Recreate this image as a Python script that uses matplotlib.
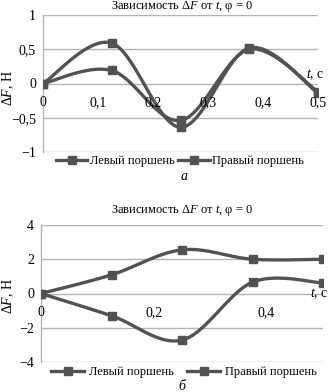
import numpy as np
import matplotlib
matplotlib.use("Agg")
import matplotlib.pyplot as plt
from matplotlib.lines import Line2D
import matplotlib.transforms as mtransforms

plt.rcParams['font.family'] = ['Liberation Serif', 'DejaVu Serif']
plt.rcParams['mathtext.fontset'] = 'custom'
plt.rcParams['mathtext.rm'] = 'Liberation Serif'
plt.rcParams['mathtext.it'] = 'Liberation Serif:italic'

# ---- data ----
t = [0, 0.125, 0.25, 0.375, 0.5]
a_left = [0, 0.59, -0.64, 0.52, -0.14]
a_right = [0, 0.19, -0.54, 0.50, -0.12]
b_left = [0, 1.09, 2.55, 2.0, 2.0]
b_right = [0, -1.3, -2.72, 0.66, 0.62]

a_xticks = [0, 0.1, 0.2, 0.3, 0.4, 0.5]
a_xlabels = ['0', '0,1', '0,2', '0,3', '0,4', '0,5']
a_yticks = [-1, -0.5, 0, 0.5, 1]
a_ylabels = ['\u22121', '\u22120,5', '0', '0,5', '1']
b_xticks = [0, 0.2, 0.4]
b_xlabels = ['0', '0,2', '0,4']
b_yticks = [-4, -2, 0, 2, 4]
b_ylabels = ['\u22124', '\u22122', '0', '2', '4']
series_names = ['Левый поршень', 'Правый поршень']
title = 'Зависимость Δ$\\mathit{F}$ от $\\mathit{t}$, φ = 0'

LINE = '#525252'
GRID = '#b4b4b4'
FS = 10
FS_T = 9
FS_L = 9


def smooth(x, y, n=30):
    x = np.asarray(x, float); y = np.asarray(y, float)
    P = np.column_stack([x, y])
    Pe = np.vstack([P[0], P, P[-1]])
    out = []
    for i in range(len(P) - 1):
        p0, p1, p2, p3 = Pe[i], Pe[i + 1], Pe[i + 2], Pe[i + 3]
        c1 = p1 + (p2 - p0) / 6.0
        c2 = p2 - (p3 - p1) / 6.0
        s = np.linspace(0, 1, n)[:, None]
        seg = (1 - s) ** 3 * p1 + 3 * (1 - s) ** 2 * s * c1 + 3 * (1 - s) * s ** 2 * c2 + s ** 3 * p2
        out.append(seg if i == 0 else seg[1:])
    seg = np.vstack(out)
    return seg[:, 0], seg[:, 1]


def panel(ax, ys, xticks, xlabels, yticks, ylabels, xlim, ylim):
    ax.set_xlim(*xlim)
    ax.set_ylim(*ylim)
    for yv in yticks:
        ax.axhline(yv, color=GRID, lw=1.0, zorder=1)
    for s in ['top', 'right', 'bottom']:
        ax.spines[s].set_visible(False)
    ax.spines['left'].set_color(GRID)
    ax.spines['left'].set_linewidth(1.0)
    ax.set_xticks([])
    ax.set_yticks(yticks)
    ax.set_yticklabels(ylabels, fontsize=FS)
    ax.tick_params(axis='y', length=0, pad=5)
    for yv in ys:
        xs, yy = smooth(t, yv)
        ax.plot(xs, yy, color=LINE, lw=2.4, zorder=3, solid_capstyle='round')
        ax.plot(t, yv, ls='none', marker='s', ms=6, color=LINE, zorder=4)
    off = mtransforms.offset_copy(ax.transData, fig=ax.figure, x=0, y=-14, units='points')
    for xv, lab in zip(xticks, xlabels):
        ax.text(xv, 0, lab, transform=off, ha='center', va='center', fontsize=FS, zorder=5)


fig = plt.figure(figsize=(3.34, 3.92), dpi=100)

ax1 = fig.add_axes([43 / 334, 1 - 152 / 392, 275 / 334, 137 / 392])
panel(ax1, [a_left, a_right], a_xticks, a_xlabels, a_yticks, a_ylabels, (0, 0.5), (-1, 1))
fig.text(182 / 334, 1 - 7 / 392, title, ha='center', va='center', fontsize=FS_T)
ax1.text(1.025, 0.562, '$\\mathit{t}$, с', transform=ax1.transAxes,
         ha='right', va='center', fontsize=FS)
fig.text(8 / 334, 1 - 88 / 392, 'Δ$\\mathit{F}$, Н', rotation=90, ha='center', va='center', fontsize=FS)

ax2 = fig.add_axes([41 / 334, 1 - 362 / 392, 282 / 334, 137 / 392])
panel(ax2, [b_left, b_right], b_xticks, b_xlabels, b_yticks, b_ylabels, (0, 0.5), (-4, 4))
fig.text(182 / 334, 1 - 211 / 392, title, ha='center', va='center', fontsize=FS_T)
ax2.text(1.02, 0.5, '$\\mathit{t}$, с', transform=ax2.transAxes, ha='right', va='center', fontsize=FS)
fig.text(8 / 334, 1 - 296 / 392, 'Δ$\\mathit{F}$, Н', rotation=90, ha='center', va='center', fontsize=FS)

handles = [Line2D([], [], color=LINE, lw=2.4, marker='s', ms=6) for _ in series_names]
fig.legend(handles, series_names, loc='center', bbox_to_anchor=(180 / 334, 1 - 161 / 392), ncol=2,
           frameon=False, fontsize=FS_L, handlelength=2.5, handletextpad=0.2, columnspacing=0.3,
           borderaxespad=0, borderpad=0)
fig.legend(handles, series_names, loc='center', bbox_to_anchor=(184 / 334, 1 - 372 / 392), ncol=2,
           frameon=False, fontsize=FS_L, handlelength=2.6, handletextpad=0.4, columnspacing=1.1,
           borderaxespad=0, borderpad=0)

fig.text(184 / 334, 1 - 177 / 392, 'а', style='italic', ha='center', va='center', fontsize=FS)
fig.text(182 / 334, 1 - 387 / 392, 'б', style='italic', ha='center', va='center', fontsize=FS)

fig.savefig('out.png', dpi=100)
